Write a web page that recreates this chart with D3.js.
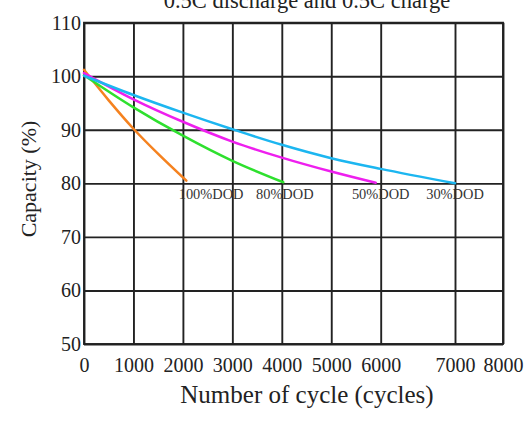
<!DOCTYPE html>
<html>
<head>
<meta charset="utf-8">
<script src="https://cdn.jsdelivr.net/npm/d3@7"></script>
<style>
  html, body { margin: 0; padding: 0; background: #fff; }
  svg { display: block; font-family: "Liberation Serif", "Times New Roman", serif; }
</style>
</head>
<body>
<svg id="chart" width="532" height="422"></svg>
<script>
// ---- data ----
const xTicks = [0, 1000, 2000, 3000, 4000, 5000, 6000, 7000, 8000];
const yTicks = [50, 60, 70, 80, 90, 100, 110];
const seriesNames = ["100%DOD", "80%DOD", "50%DOD", "30%DOD"];
const seriesColors = ["#f5821f", "#2ee02e", "#ee1fee", "#1cb6f0"];
const labelCycles = [2570, 4060, 6000, 7000];

const cycles100 = [0, 500, 1000, 1500, 2070];
const cap100    = [101.2, 95.5, 90.2, 85.5, 80.5];
const cycles80  = [0, 1000, 2000, 3000, 4030];
const cap80     = [100.2, 94.2, 88.9, 84.2, 80.2];
const cycles50  = [0, 1000, 2000, 3000, 4000, 5000, 5900];
const cap50     = [100.6, 95.7, 91.5, 87.8, 84.8, 82.2, 80.1];
const cycles30  = [0, 1000, 2000, 3000, 4000, 5000, 6000, 7000];
const cap30     = [100.1, 96.5, 93.2, 90.1, 87.2, 84.7, 82.7, 80.0];

const title = "0.5C discharge and 0.5C charge";
const xTitle = "Number of cycle (cycles)";
const yTitle = "Capacity (%)";

// ---- layout ----
const svg = d3.select("#chart");
const mLeft = 84, mRight = 503, mTop = 22.7, mBottom = 344;

// the original x axis is not evenly spaced after 6000
const x = d3.scaleLinear()
  .domain([0, 6000, 7000, 8000])
  .range([mLeft, 380.7, 455, mRight]);
const y = d3.scaleLinear().domain([50, 110]).range([mBottom, mTop]);

const series = [
  d3.zip(cycles100, cap100),
  d3.zip(cycles80, cap80),
  d3.zip(cycles50, cap50),
  d3.zip(cycles30, cap30)
];

const gridColor = "#222";

// y grid + labels
const gy = svg.append("g")
  .attr("transform", `translate(${mLeft},0)`)
  .call(d3.axisLeft(y).tickValues(yTicks).tickFormat(d3.format("d"))
    .tickSize(-(mRight - mLeft)).tickPadding(3));
gy.select(".domain").remove();
gy.selectAll(".tick line").attr("stroke", gridColor).attr("stroke-width", 1.9);
gy.selectAll(".tick text").attr("font-size", 20).attr("fill", "#222")
  .attr("font-family", "Liberation Serif, serif");

// x grid + labels
const gx = svg.append("g")
  .attr("transform", `translate(0,${mBottom})`)
  .call(d3.axisBottom(x).tickValues(xTicks).tickFormat(d3.format("d"))
    .tickSize(-(mBottom - mTop)).tickPadding(13.5));
gx.select(".domain").remove();
gx.selectAll(".tick line").attr("stroke", gridColor).attr("stroke-width", 1.9);
gx.selectAll(".tick text").attr("font-size", 20).attr("fill", "#222")
  .attr("font-family", "Liberation Serif, serif");

// frame
svg.append("rect")
  .attr("x", mLeft).attr("y", mTop)
  .attr("width", mRight - mLeft).attr("height", mBottom - mTop)
  .attr("fill", "none").attr("stroke", gridColor).attr("stroke-width", 1.9);

// curves
const line = d3.line()
  .x(d => x(d[0])).y(d => y(d[1]))
  .curve(d3.curveCatmullRom.alpha(0.5));

svg.append("g").selectAll("path")
  .data(series)
  .join("path")
  .attr("d", line)
  .attr("fill", "none")
  .attr("stroke", (d, i) => seriesColors[i])
  .attr("stroke-width", 2.5)
  .attr("stroke-linecap", "round");

// DOD labels
svg.append("g").selectAll("text")
  .data(seriesNames)
  .join("text")
  .attr("x", (d, i) => x(labelCycles[i]))
  .attr("y", y(80) + 16)
  .attr("text-anchor", "middle")
  .attr("font-size", 14.4)
  .attr("fill", "#333")
  .text(d => d);

// titles
svg.append("text")
  .attr("x", 307).attr("y", 8)
  .attr("text-anchor", "middle")
  .attr("font-size", 22.5).attr("fill", "#222")
  .text(title);

svg.append("text")
  .attr("x", 307).attr("y", 403)
  .attr("text-anchor", "middle")
  .attr("font-size", 25).attr("fill", "#222")
  .text(xTitle);

svg.append("text")
  .attr("transform", "translate(36,179) rotate(-90)")
  .attr("text-anchor", "middle")
  .attr("font-size", 22).attr("fill", "#222")
  .text(yTitle);
</script>
</body>
</html>
